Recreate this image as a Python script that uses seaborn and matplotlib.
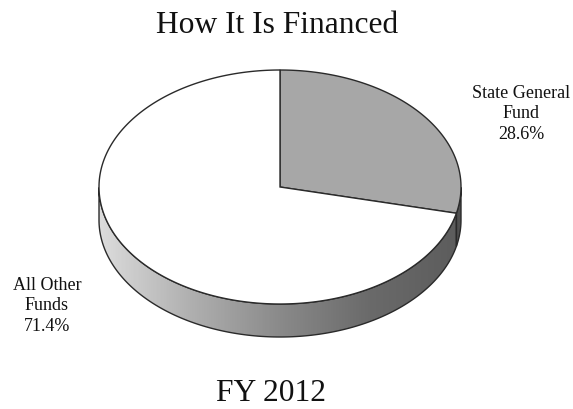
import numpy as np
import matplotlib
matplotlib.use("Agg")
import matplotlib.pyplot as plt
from matplotlib.patches import Polygon
import seaborn as sns

# Funding sources, FY 2012
sources = ["State General\nFund", "All Other\nFunds"]
shares = [28.6, 71.4]
title = "How It Is Financed"
subtitle = "FY 2012"

sns.set_theme(style="white")
plt.rcParams["font.family"] = ["Liberation Serif", "DejaVu Serif"]

W, H, DPI = 573, 409, 100
fig = plt.figure(figsize=(W / DPI, H / DPI), dpi=DPI)
ax = fig.add_axes([0, 0, 1, 1])
ax.set_xlim(0, W)
ax.set_ylim(H, 0)
ax.set_axis_off()

# 3-D pie geometry (pixel space, y grows downward)
cx, cy, a, b, depth = 280, 187, 181, 117, 33


def rim(t):
    return cx + a * np.cos(t), cy - b * np.sin(t)


# slice angles: start at 12 o'clock and go clockwise
fracs = np.array(shares) / sum(shares)
starts = np.pi / 2 - 2 * np.pi * np.concatenate([[0], np.cumsum(fracs)[:-1]])
ends = starts - 2 * np.pi * fracs

top_colors = ["#a7a7a7", "#ffffff"]
edge = "#2a2a2a"


def side_polygon(t0, t1):
    """Visible outer wall between angles t0 > t1 (front half only)."""
    ts = np.linspace(t0, t1, 300)
    ts = ts[np.sin(ts) <= 1e-9]
    if len(ts) < 2:
        return None
    x, y = rim(ts)
    xs = np.concatenate([x, x[::-1]])
    ys = np.concatenate([y, y[::-1] + depth])
    return np.column_stack([xs, ys])


# gradient for the wall of the large slice
grad = np.linspace(0, 1, 400)[None, :]
wall_cmap = matplotlib.colors.LinearSegmentedColormap.from_list(
    "wall", ["#dcdcdc", "#b0b0b0", "#8a8a8a", "#6a6a6a", "#5c5c5c"])

for i, (t0, t1) in enumerate(zip(starts, ends)):
    lo, hi = sorted([t0, t1])
    pts = None
    for shift in (0, 2 * np.pi, -2 * np.pi):
        p = side_polygon(hi + shift, lo + shift)
        if p is not None:
            pts = p
            break
    if pts is None:
        continue
    if i == 1:
        poly = Polygon(pts, closed=True, facecolor="none", edgecolor="none")
        ax.add_patch(poly)
        im = ax.imshow(grad, cmap=wall_cmap, aspect="auto",
                       extent=[cx - a, cx + a, cy + b + depth, cy - b],
                       zorder=1)
        im.set_clip_path(poly)
        ax.add_patch(Polygon(pts, closed=True, facecolor="none",
                             edgecolor=edge, lw=1.0, zorder=2))
    else:
        ax.add_patch(Polygon(pts, closed=True, facecolor="#505050",
                             edgecolor=edge, lw=1.0, zorder=2))

# top faces
for i, (t0, t1) in enumerate(zip(starts, ends)):
    ts = np.linspace(t0, t1, 400)
    x, y = rim(ts)
    pts = np.column_stack([np.r_[cx, x], np.r_[cy, y]])
    ax.add_patch(Polygon(pts, closed=True, facecolor=top_colors[i],
                         edgecolor=edge, lw=1.0, zorder=3))

# labels
ax.text(521, 114, f"{sources[0]}\n{shares[0]:.1f}%", ha="center",
        va="center", fontsize=13, linespacing=1.28, color="#111111")
ax.text(47, 306, f"{sources[1]}\n{shares[1]:.1f}%", ha="center",
        va="center", fontsize=13, linespacing=1.28, color="#111111")

ax.text(277, 33, title, ha="center", va="baseline", fontsize=22.7,
        color="#111111")
ax.text(271, 408, subtitle, ha="center", va="bottom", fontsize=22.7,
        color="#111111")

fig.savefig("out.png", dpi=DPI)
